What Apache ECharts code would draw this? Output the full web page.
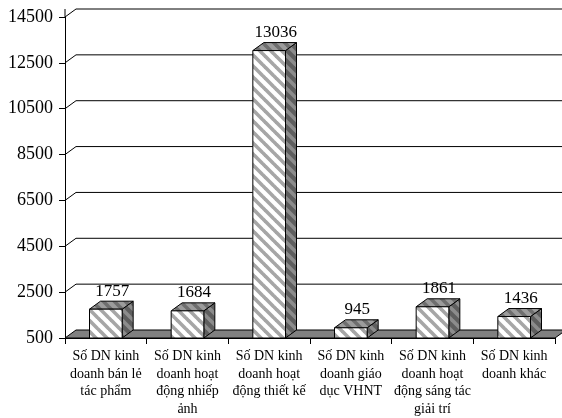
<!DOCTYPE html>
<html>
<head>
<meta charset="utf-8">
<script src="https://cdn.jsdelivr.net/npm/echarts@6/dist/echarts.min.js"></script>
<style>
  html, body { margin: 0; padding: 0; background: #fff; }
  #chart { width: 562px; height: 418px; }
</style>
</head>
<body>
<div id="chart"></div>
<script>
// Number of cultural enterprises by field of activity
const categories = [
  'Số DN kinh\ndoanh bán lẻ\ntác phẩm',
  'Số DN kinh\ndoanh hoạt\nđộng nhiếp\nảnh',
  'Số DN kinh\ndoanh hoạt\nđộng thiết kế',
  'Số DN kinh\ndoanh giáo\ndục VHNT',
  'Số DN kinh\ndoanh hoạt\nđộng sáng tác\ngiải trí',
  'Số DN kinh\ndoanh khác'
];
const values = [1757, 1684, 13036, 945, 1861, 1436];
const yTicks = [500, 2500, 4500, 6500, 8500, 10500, 12500, 14500];

// Depth of the pseudo-3D box (screen offset from front plane to back plane)
const DX = 11;
const DY = -8;
const FONT = 'Times New Roman, Liberation Serif, DejaVu Serif, serif';

// Diagonal hatch fill used for the bar faces
function hatch(base, stripe) {
  const size = 11;
  const c = document.createElement('canvas');
  c.width = size;
  c.height = size;
  const g = c.getContext('2d');
  g.fillStyle = base;
  g.fillRect(0, 0, size, size);
  g.strokeStyle = stripe;
  g.lineWidth = 3.6;
  for (const o of [-size, 0, size]) {
    g.beginPath();
    g.moveTo(o - 1, -1);
    g.lineTo(o + size + 1, size + 1);
    g.stroke();
  }
  return { image: c, repeat: 'repeat' };
}

const frontFill = hatch('#ffffff', '#a6a6a6');
const topFill = hatch('#9c9c9c', '#6e6e6e');
const sideFill = hatch('#5e5e5e', '#8c8c8c');

// Back wall gridlines, left-wall connectors and the floor slab
function renderWalls(params, api) {
  const cs = params.coordSys;
  const left = cs.x;
  const right = cs.x + cs.width;
  const y = api.coord([0, api.value(1)])[1];
  const children = [];
  if (params.dataIndex === 0) {
    children.push({
      type: 'polygon',
      shape: { points: [[left, y], [right, y], [right + DX, y + DY], [left + DX, y + DY]] },
      style: { fill: '#808080', stroke: '#000', lineWidth: 1 }
    });
  } else {
    children.push({
      type: 'polyline',
      shape: { points: [[left, y], [left + DX, y + DY], [right + DX, y + DY]] },
      style: { fill: null, stroke: '#000', lineWidth: 1 }
    });
  }
  if (params.dataIndex === yTicks.length - 1) {
    children.push({
      type: 'line',
      shape: { x1: left, y1: y, x2: left, y2: y + DY },
      style: { stroke: '#000', lineWidth: 1 }
    });
  }
  return { type: 'group', children };
}

// Hatched 3D boxes with value labels
function renderBar(params, api) {
  const idx = api.value(0);
  const val = api.value(1);
  const top = api.coord([idx, val]);
  const base = api.coord([idx, yTicks[0]]);
  const w = api.size([1, 0])[0] * 0.4;
  const x0 = top[0] - w / 2;
  const x1 = top[0] + w / 2;
  const yt = top[1];
  const yb = base[1];
  return {
    type: 'group',
    children: [
      {
        type: 'polygon',
        shape: { points: [[x1, yt], [x1 + DX, yt + DY], [x1 + DX, yb + DY], [x1, yb]] },
        style: { fill: sideFill, stroke: '#000', lineWidth: 1 }
      },
      {
        type: 'polygon',
        shape: { points: [[x0, yt], [x1, yt], [x1 + DX, yt + DY], [x0 + DX, yt + DY]] },
        style: { fill: topFill, stroke: '#000', lineWidth: 1 }
      },
      {
        type: 'rect',
        shape: { x: x0, y: yt, width: w, height: yb - yt },
        style: { fill: frontFill, stroke: '#000', lineWidth: 1 }
      },
      {
        type: 'text',
        x: top[0] + DX / 2 + 1,
        y: yt + DY - 10,
        style: {
          text: String(val),
          fill: '#000',
          fontFamily: FONT,
          fontSize: 17,
          align: 'center',
          verticalAlign: 'middle'
        }
      }
    ]
  };
}

const chart = echarts.init(document.getElementById('chart'), null, { renderer: 'canvas' });
chart.setOption({
  backgroundColor: '#fff',
  animation: false,
  textStyle: { fontFamily: FONT },
  grid: { left: 65, right: 7, top: 17, bottom: 78 },
  xAxis: {
    type: 'category',
    data: categories,
    axisLine: { show: true, lineStyle: { color: '#000', width: 1 } },
    axisTick: { show: true, interval: 0, alignWithLabel: false, length: 6, lineStyle: { color: '#000' } },
    axisLabel: {
      interval: 0,
      color: '#000',
      fontFamily: FONT,
      fontSize: 14,
      lineHeight: 17.5,
      margin: 10
    },
    splitLine: { show: false }
  },
  yAxis: {
    type: 'value',
    min: yTicks[0],
    max: yTicks[yTicks.length - 1],
    interval: yTicks[1] - yTicks[0],
    axisLine: { show: true, lineStyle: { color: '#000', width: 1 } },
    axisTick: { show: true, length: 6, lineStyle: { color: '#000' } },
    axisLabel: {
      color: '#000',
      fontFamily: FONT,
      fontSize: 18,
      margin: 12,
      formatter: v => String(v)
    },
    splitLine: { show: false }
  },
  series: [
    {
      type: 'custom',
      name: 'walls',
      renderItem: renderWalls,
      data: yTicks.map(v => [0, v]),
      z: 1,
      silent: true
    },
    {
      type: 'custom',
      name: 'Số DN',
      renderItem: renderBar,
      data: values.map((v, i) => [i, v]),
      z: 3
    }
  ]
});
</script>
</body>
</html>
